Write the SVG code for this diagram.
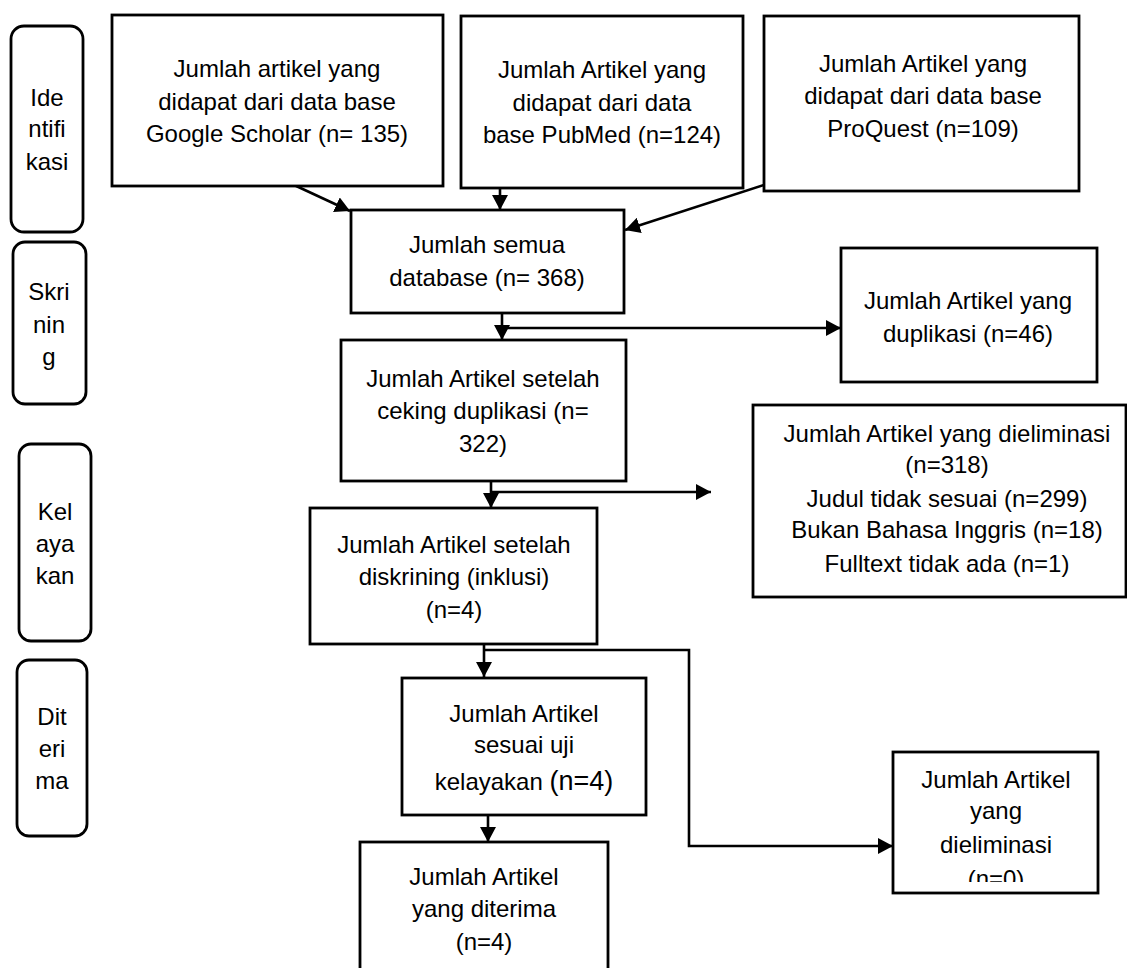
<svg xmlns="http://www.w3.org/2000/svg" width="1127" height="968" viewBox="0 0 1127 968">
<style>
  .box { fill: #fff; stroke: #000; stroke-width: 2.8; }
  .side { fill: #fff; stroke: #000; stroke-width: 2.8; }
  .t { font-family: "Liberation Sans", Arial, sans-serif; font-size: 24px; fill: #000; text-anchor: middle; }
  .conn { fill: none; stroke: #000; stroke-width: 2.6; }
</style>
<defs>
  <marker id="arr" markerUnits="userSpaceOnUse" markerWidth="17" markerHeight="16" refX="15" refY="8" orient="auto">
    <path d="M0,0 L15,8 L0,16 Z" fill="#000"/>
  </marker>
  <clipPath id="clipN0">
    <rect x="893" y="752" width="205" height="130"/>
  </clipPath>
</defs>
<rect width="1127" height="968" fill="#fff"/>

<g id="side-identifikasi">
  <rect class="side" x="11" y="26" width="72" height="206" rx="13"/>
  <text class="t" x="47" y="106">Ide</text>
  <text class="t" x="47" y="137">ntifi</text>
  <text class="t" x="47" y="170">kasi</text>
</g>
<g id="side-skrining">
  <rect class="side" x="13" y="242" width="73" height="162" rx="12"/>
  <text class="t" x="49" y="300">Skri</text>
  <text class="t" x="49" y="333">nin</text>
  <text class="t" x="49" y="365">g</text>
</g>
<g id="side-kelayakan">
  <rect class="side" x="19" y="444" width="72" height="197" rx="12"/>
  <text class="t" x="55" y="520">Kel</text>
  <text class="t" x="55" y="552">aya</text>
  <text class="t" x="55" y="584">kan</text>
</g>
<g id="side-diterima">
  <rect class="side" x="17" y="660" width="70" height="176" rx="12"/>
  <text class="t" x="52" y="725">Dit</text>
  <text class="t" x="52" y="757">eri</text>
  <text class="t" x="52" y="789">ma</text>
</g>

<g id="connectors">
  <line class="conn" x1="279" y1="178" x2="350" y2="211" marker-end="url(#arr)"/>
  <line class="conn" x1="500" y1="188" x2="500" y2="210" marker-end="url(#arr)"/>
  <line class="conn" x1="764" y1="185" x2="625" y2="230" marker-end="url(#arr)"/>
  <line class="conn" x1="502" y1="313" x2="502" y2="340" marker-end="url(#arr)"/>
  <line class="conn" x1="502" y1="328" x2="841" y2="328" marker-end="url(#arr)"/>
  <line class="conn" x1="491" y1="481" x2="491" y2="508" marker-end="url(#arr)"/>
  <line class="conn" x1="491" y1="492" x2="711" y2="492" marker-end="url(#arr)"/>
  <line class="conn" x1="484" y1="644" x2="484" y2="677" marker-end="url(#arr)"/>
  <polyline class="conn" points="484,650 689,650 689,846 893,846" marker-end="url(#arr)"/>
  <line class="conn" x1="488" y1="815" x2="488" y2="842" marker-end="url(#arr)"/>
</g>

<g id="node-google">
  <rect class="box" x="112" y="15" width="331" height="171"/>
  <text class="t" x="277" y="77">Jumlah artikel yang</text>
  <text class="t" x="277" y="110">didapat dari data base</text>
  <text class="t" x="277" y="142">Google Scholar (n= 135)</text>
</g>
<g id="node-pubmed">
  <rect class="box" x="461" y="16" width="282" height="172"/>
  <text class="t" x="602" y="78">Jumlah Artikel yang</text>
  <text class="t" x="602" y="111">didapat dari data</text>
  <text class="t" x="602" y="143">base PubMed (n=124)</text>
</g>
<g id="node-proquest">
  <rect class="box" x="764" y="16" width="315" height="175"/>
  <text class="t" x="923" y="72">Jumlah Artikel yang</text>
  <text class="t" x="923" y="104">didapat dari data base</text>
  <text class="t" x="923" y="137">ProQuest (n=109)</text>
</g>
<g id="node-semua">
  <rect class="box" x="351" y="210" width="273" height="103"/>
  <text class="t" x="487" y="253">Jumlah semua</text>
  <text class="t" x="487" y="286">database (n= 368)</text>
</g>
<g id="node-duplikasi">
  <rect class="box" x="841" y="248" width="256" height="134"/>
  <text class="t" x="968" y="309">Jumlah Artikel yang</text>
  <text class="t" x="968" y="342">duplikasi (n=46)</text>
</g>
<g id="node-ceking">
  <rect class="box" x="341" y="340" width="285" height="141"/>
  <text class="t" x="483" y="387">Jumlah Artikel setelah</text>
  <text class="t" x="483" y="419">ceking duplikasi (n=</text>
  <text class="t" x="483" y="452">322)</text>
</g>
<g id="node-eliminasi-318">
  <rect class="box" x="753" y="405" width="373" height="192"/>
  <text class="t" x="947" y="442">Jumlah Artikel yang dieliminasi</text>
  <text class="t" x="947" y="473">(n=318)</text>
  <text class="t" x="947" y="507">Judul tidak sesuai (n=299)</text>
  <text class="t" x="947" y="538">Bukan Bahasa Inggris (n=18)</text>
  <text class="t" x="947" y="572">Fulltext tidak ada (n=1)</text>
</g>
<g id="node-diskrining">
  <rect class="box" x="310" y="508" width="287" height="136"/>
  <text class="t" x="454" y="553">Jumlah Artikel setelah</text>
  <text class="t" x="454" y="585">diskrining (inklusi)</text>
  <text class="t" x="454" y="618">(n=4)</text>
</g>
<g id="node-sesuai">
  <rect class="box" x="402" y="678" width="244" height="137"/>
  <text class="t" x="524" y="722">Jumlah Artikel</text>
  <text class="t" x="524" y="753">sesuai uji</text>
  <text class="t" x="524" y="790">kelayakan <tspan font-size="27">(n=4)</tspan></text>
</g>
<g id="node-diterima">
  <rect class="box" x="360" y="842" width="248" height="140"/>
  <text class="t" x="484" y="885">Jumlah Artikel</text>
  <text class="t" x="484" y="917">yang diterima</text>
  <text class="t" x="484" y="950">(n=4)</text>
</g>
<g id="node-eliminasi-0">
  <rect class="box" x="893" y="752" width="205" height="141"/>
  <text class="t" x="996" y="788">Jumlah Artikel</text>
  <text class="t" x="996" y="819">yang</text>
  <text class="t" x="996" y="853">dieliminasi</text>
  <text class="t" x="996" y="887" clip-path="url(#clipN0)">(n=0)</text>
</g>
</svg>
